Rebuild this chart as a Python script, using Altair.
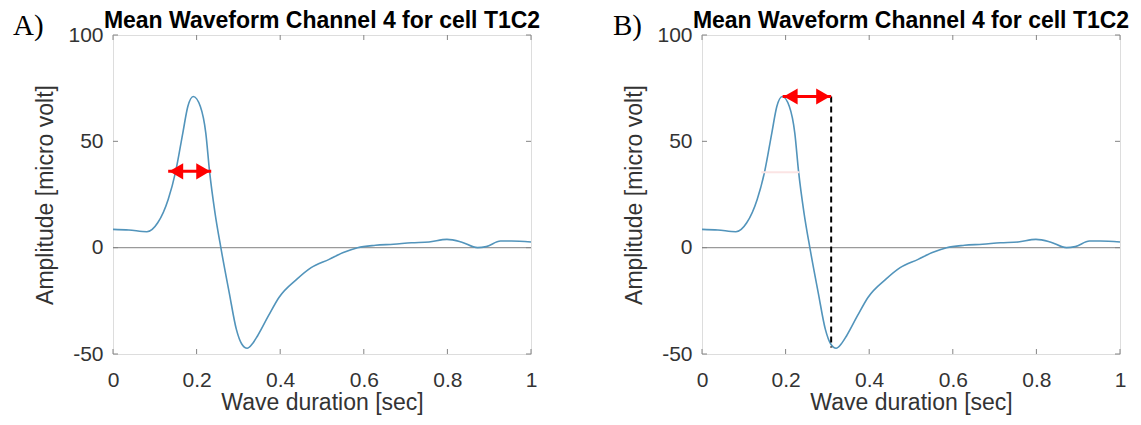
import altair as alt
import pandas as pd

# ---- data ----
wave_x = [0.0, 0.038, 0.081, 0.107, 0.132, 0.150, 0.167, 0.179, 0.192, 0.209,
          0.222, 0.231, 0.244, 0.258, 0.278, 0.295, 0.308, 0.321, 0.333, 0.346,
          0.372, 0.397, 0.440, 0.474, 0.517, 0.551, 0.585, 0.628, 0.671, 0.714,
          0.756, 0.799, 0.833, 0.872, 0.893, 0.927, 0.953, 1.0]
wave_y = [8.6, 8.3, 7.5, 11.7, 22.7, 35.9, 53.9, 66.4, 71.1, 66.4,
          53.9, 35.9, 16.4, 0.0, -21.1, -38.3, -45.3, -47.3, -45.3, -41.4,
          -32.0, -23.4, -14.8, -9.4, -5.5, -2.3, 0.0, 1.1, 1.6, 2.3,
          2.7, 3.9, 2.7, 0.0, 0.5, 3.1, 3.1, 2.7]

x_ticks = [0, 0.2, 0.4, 0.6, 0.8, 1]
y_ticks = [-50, 0, 50, 100]
zero_level = [0]

panel_labels = ["A)", "B)"]
title_text = "Mean Waveform Channel 4 for cell T1C2"

# panel A: half-width arrow
arrow_a_x = [0.132, 0.235]
arrow_a_y = [35.9, 35.9]
# panel B: peak-to-trough arrow, dashed drop line, erased half-width line
arrow_b_x = [0.193, 0.309]
arrow_b_y = [71.1, 71.1]
drop_x = [0.309, 0.309]
drop_y = [71.1, -46.9]
faint_x = [0.142, 0.233]
faint_y = [35.5, 35.5]

W, H = 418, 319
FONT = "Liberation Sans"
TXT = "#333333"
FRAME = "#858585"


def xenc(field="x"):
    return alt.X(f"{field}:Q",
                 scale=alt.Scale(domain=[0, 1], nice=False, zero=False),
                 axis=alt.Axis(values=x_ticks, title="Wave duration [sec]", grid=False,
                               ticks=False, tickSize=0, domain=False,
                               labelExpr="'' + datum.value",
                               labelFont=FONT, labelFontSize=21, labelColor=TXT,
                               labelPadding=15, labelFlush=False,
                               titleFont=FONT, titleFontSize=23, titleFontWeight="normal",
                               titleColor=TXT, titlePadding=1))


def yenc(field="y"):
    return alt.Y(f"{field}:Q",
                 scale=alt.Scale(domain=[-50, 100], nice=False, zero=False),
                 axis=alt.Axis(values=y_ticks, title="Amplitude [micro volt]", grid=False,
                               ticks=False, tickSize=0, domain=False,
                               labelExpr="'' + datum.value",
                               labelFont=FONT, labelFontSize=21, labelColor=TXT,
                               labelPadding=10, labelFlush=False,
                               titleFont=FONT, titleFontSize=23, titleFontWeight="normal",
                               titleColor=TXT, titlePadding=10))


def base_layers(letter, letter_x):
    wave = pd.DataFrame({"x": wave_x, "y": wave_y})
    line = alt.Chart(wave).mark_line(color="#5294bb", strokeWidth=1.6,
                                     interpolate="monotone").encode(x=xenc(), y=yenc())
    zero = alt.Chart(pd.DataFrame({"y": zero_level})).mark_rule(
        color="#9a9a9a", strokeWidth=1.2).encode(y=yenc())
    xt = pd.DataFrame({"x": x_ticks})
    yt = pd.DataFrame({"y": y_ticks})
    tb = alt.Chart(xt).mark_rule(color=FRAME, strokeWidth=1).encode(
        x=xenc(), y=alt.value(H), y2=alt.value(H - 5))
    tt = alt.Chart(xt).mark_rule(color=FRAME, strokeWidth=1).encode(
        x=xenc(), y=alt.value(0), y2=alt.value(5))
    tl = alt.Chart(yt).mark_rule(color=FRAME, strokeWidth=1).encode(
        y=yenc(), x=alt.value(0), x2=alt.value(5))
    tr = alt.Chart(yt).mark_rule(color=FRAME, strokeWidth=1).encode(
        y=yenc(), x=alt.value(W), x2=alt.value(W - 5))
    lab = alt.Chart(pd.DataFrame({"t": [letter]})).mark_text(
        font="Liberation Serif", fontSize=29, align="left", baseline="alphabetic",
        color="black").encode(x=alt.value(letter_x), y=alt.value(0), text="t:N")
    ttl = alt.Chart(pd.DataFrame({"t": [title_text]})).mark_text(
        font=FONT, fontSize=23, fontWeight="bold", align="center", baseline="alphabetic",
        color="black").encode(x=alt.value(W / 2), y=alt.value(-7), text="t:N")
    return [zero, tb, tt, tl, tr, line, lab, ttl]


def arrow(xs, ys):
    d = pd.DataFrame({"x": xs, "y": ys})
    shaft = alt.Chart(d).mark_line(color="#ff0000", strokeWidth=3).encode(x=xenc(), y=yenc())
    left = alt.Chart(d.iloc[[0]]).mark_point(shape="triangle-left", filled=True, size=260,
                                             color="#ff0000", opacity=1, xOffset=8).encode(
        x=xenc(), y=yenc())
    right = alt.Chart(d.iloc[[1]]).mark_point(shape="triangle-right", filled=True, size=260,
                                              color="#ff0000", opacity=1, xOffset=-8).encode(
        x=xenc(), y=yenc())
    return [shaft, left, right]


panel_a = alt.layer(*base_layers(panel_labels[0], -100),
                    *arrow(arrow_a_x, arrow_a_y)).properties(width=W, height=H)

faint = alt.Chart(pd.DataFrame({"x": faint_x, "y": faint_y})).mark_line(
    color="#fbe4e4", strokeWidth=2).encode(x=xenc(), y=yenc())
drop = alt.Chart(pd.DataFrame({"x": drop_x, "y": drop_y})).mark_line(
    color="black", strokeWidth=2, strokeDash=[6, 4]).encode(x=xenc(), y=yenc())

panel_b = alt.layer(*base_layers(panel_labels[1], -89), faint, drop,
                    *arrow(arrow_b_x, arrow_b_y)).properties(width=W, height=H)

chart = alt.hconcat(panel_a, panel_b, spacing=171, bounds="flush").properties(
    padding={"left": 12, "top": 9, "right": 0, "bottom": 3}
).configure_view(stroke=FRAME, strokeWidth=1.2).configure(background="white")

chart.save("out.html", embed_options={"renderer": "svg", "actions": False})
